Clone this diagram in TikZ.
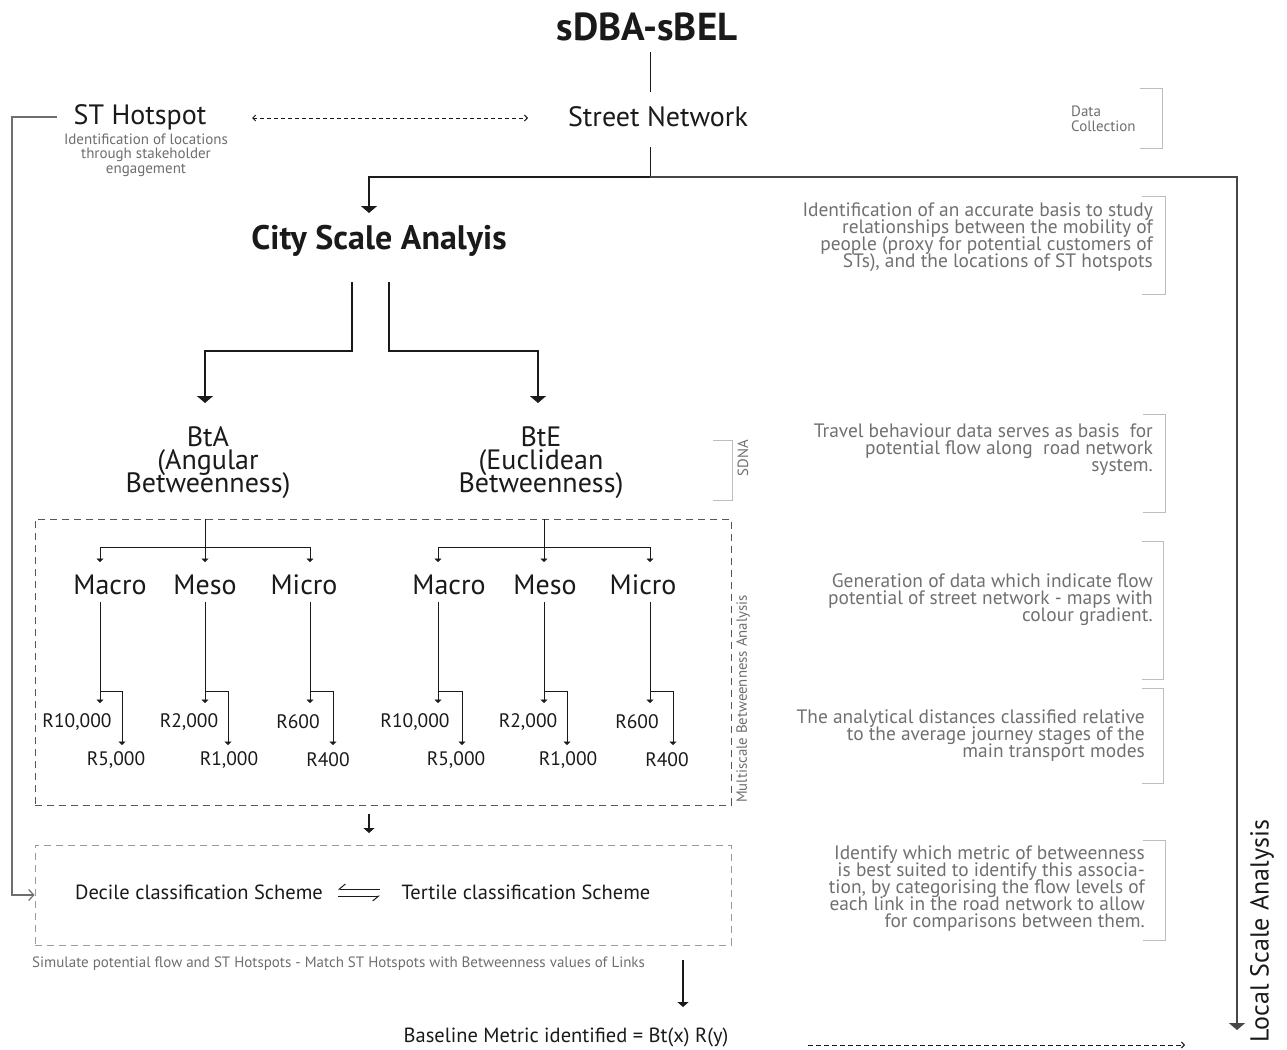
\documentclass[tikz,border=0pt]{standalone}
\usepackage{fontspec}
\setmainfont{PT Sans}
\usetikzlibrary{arrows.meta}

\definecolor{ink}{HTML}{1A1A1A}
\definecolor{subgrey}{HTML}{6E6E6E}
\definecolor{descgrey}{HTML}{707070}
\definecolor{brack}{HTML}{BDBDBD}
\definecolor{rail}{HTML}{474747}
\definecolor{boxone}{HTML}{555555}
\definecolor{boxtwo}{HTML}{9A9A9A}

% allow lines closer than their natural height
\newcommand\tightlines{\lineskiplimit=-30pt\relax}

\begin{document}
\begin{tikzpicture}[x=1pt,y=-1pt,
  txt/.style={inner sep=0pt, text=ink},
  fbig/.style={txt, font=\fontsize{28}{23}\selectfont\tightlines},
  ftitle/.style={txt, font=\bfseries\fontsize{39}{40}\selectfont},
  fcity/.style={txt, font=\bfseries\fontsize{34}{36}\selectfont},
  frad/.style={txt, font=\fontsize{19.5}{20}\selectfont},
  fscheme/.style={txt, font=\fontsize{20.5}{22}\selectfont},
  fsub/.style={txt, text=subgrey, font=\fontsize{15}{14.5}\selectfont\tightlines},
  fside/.style={txt, text=subgrey, font=\fontsize{14.8}{15}\selectfont},
  fdesc/.style={txt, text=descgrey, align=right, anchor=north east, font=\fontsize{19.4}{17}\selectfont\tightlines},
  conn/.style={draw=ink, line width=1.4pt},
  thin/.style={draw=ink, line width=1pt},
  railline/.style={draw=rail, line width=2pt},
  greyline/.style={draw=subgrey, line width=1.2pt},
  bracket/.style={draw=brack, line width=1pt},
  bigtip/.style={-{Triangle[width=16pt,length=7pt]}},
  midtip/.style={-{Triangle[width=11pt,length=5pt]}},
  smalltip/.style={-{Triangle[width=7pt,length=3.5pt]}},
  dashbox/.style={draw=boxone, line width=1pt, dash pattern=on 7pt off 5pt, minimum width=696pt, minimum height=286pt, inner sep=0pt},
]
\useasboundingbox (0,0) rectangle (1287,1049);

% ---------- data collection level ----------
\node[ftitle] (title) at (647,27) {sDBA-sBEL};
\node[fbig] (street) at (658,117) {Street Network};
\node[fbig] (hot) at (140,117) {ST Hotspot};
\node[fsub, align=center] (hotsub) at (146,155) {Identification of locations\\through stakeholder\\engagement};
\node[fsub, align=left, anchor=west] (datacol) at (1071,119) {Data\\Collection};

\coordinate (titleout) at (650,52);
\coordinate (streetin) at (650,92);
\coordinate (streetout) at (650,147);
\coordinate (split) at (650,177);
\coordinate (cityin) at (369,213);
\coordinate (localend) at (1237,1030);
\coordinate (hotL) at (252,118);
\coordinate (streetL) at (528,118);

\draw[thin] (titleout) -- (streetin);
\draw[thin] (streetout) -- (split);
\draw[conn, bigtip] (split) -| (cityin);
\draw[railline, bigtip] (split) -| (localend);
\draw[thin, dash pattern=on 4pt off 3pt,
      {Straight Barb[length=3pt,width=6pt]}-{Straight Barb[length=3pt,width=6pt]}] (hotL) -- (streetL);

% ---------- city scale ----------
\node[fcity] (city) at (379,241) {City Scale Analyis};
\coordinate (cityL) at (352,282);
\coordinate (cityR) at (389,282);
\coordinate (btaIn) at (205,403);
\coordinate (bteIn) at (538,403);
\draw[conn, bigtip] (cityL) -- (352,351) -| (btaIn);
\draw[conn, bigtip] (cityR) -- (389,351) -| (bteIn);

\node[fbig, align=center] (bta) at (208,463) {BtA\\(Angular\\Betweenness)};
\node[fbig, align=center] (bte) at (541,463) {BtE\\(Euclidean\\Betweenness)};

% ---------- multiscale betweenness box ----------
\node[dashbox] (box1) at (383,662) {};
\node[fside, rotate=90] (mba) at (743,699) {Multiscale Betweenness Analysis};
\node[fside, rotate=90] (sdna) at (743,458) {SDNA};

% scale levels, angular
\node[fbig] (maA) at (110,585) {Macro};
\node[fbig] (meA) at (205,585) {Meso};
\node[fbig] (miA) at (304,585) {Micro};
\node[frad] (r10A) at (77,722) {R10,000};
\node[frad] (r5A) at (116,760) {R5,000};
\node[frad] (r2A) at (189,722) {R2,000};
\node[frad] (r1A) at (229,760) {R1,000};
\node[frad] (r6A) at (298,722) {R600};
\node[frad] (r4A) at (328,760) {R400};

% scale levels, euclidean
\node[fbig] (maE) at (449,585) {Macro};
\node[fbig] (meE) at (545,585) {Meso};
\node[fbig] (miE) at (643,585) {Micro};
\node[frad] (r10E) at (415,722) {R10,000};
\node[frad] (r5E) at (456,760) {R5,000};
\node[frad] (r2E) at (528,722) {R2,000};
\node[frad] (r1E) at (568,760) {R1,000};
\node[frad] (r6E) at (637,722) {R600};
\node[frad] (r4E) at (667,760) {R400};

% fan-out to the three scales
\foreach \c/\l/\m/\r in {205/100/205/310, 544/438/544/650}{
  \draw[thin] (\c,519) -- (\c,547);
  \draw[thin] (\l,547) -- (\r,547);
  \draw[thin, smalltip] (\l,547) -- (\l,562);
  \draw[thin, smalltip] (\m,547) -- (\m,562);
  \draw[thin, smalltip] (\r,547) -- (\r,562);
}
% each scale to its two radii
\foreach \x/\xr in {100/122, 205/228, 310/333, 438/462, 544/567, 650/673}{
  \draw[thin, smalltip] (\x,602) -- (\x,703);
  \draw[thin, smalltip] (\x,691) -- (\xr,691) -- (\xr,745);
}

% ---------- classification ----------
\coordinate (box1out) at (369,814);
\coordinate (box2in) at (369,833);
\draw[conn, midtip] (box1out) -- (box2in);

\node[draw=boxtwo, line width=1pt, dash pattern=on 7pt off 5pt, minimum width=696pt, minimum height=100pt, inner sep=0pt] (box2) at (383,895) {};
\node[fscheme] (decile) at (199,892) {Decile classification Scheme};
\node[fscheme] (tertile) at (526,892) {Tertile classification Scheme};
\draw[thin, -{Straight Barb[harpoon,swap,length=6pt,width=10pt]}] (380,889) -- (338,889);
\draw[thin, -{Straight Barb[harpoon,swap,length=6pt,width=10pt]}] (338,896) -- (380,896);

\coordinate (hotout) at (57,117);
\draw[greyline, -{Straight Barb[length=5pt,width=11pt]}] (hotout) -- (12,117) |- (box2.west);

\node[txt, text=subgrey, anchor=west, font=\fontsize{15}{16}\selectfont] (simulate) at (32,964)
  {Simulate potential flow and ST Hotspots - Match ST Hotspots with Betweenness values of Links};

\coordinate (metricfrom) at (683,960);
\coordinate (metricto) at (683,1007);
\draw[conn, midtip] (metricfrom) -- (metricto);
\node[txt, font=\fontsize{20.5}{22}\selectfont] (metric) at (566,1037) {Baseline Metric identified = Bt(x) R(y)};

\coordinate (dashfrom) at (808,1045);
\coordinate (dashto) at (1185,1045);
\draw[thin, dash pattern=on 5pt off 3pt, -{Straight Barb[length=3pt,width=6pt]}] (dashfrom) -- (dashto);

\node[txt, rotate=90, font=\fontsize{26}{28}\selectfont] (local) at (1262,931) {Local Scale Analysis};

% ---------- notes on the right ----------
\node[fdesc] (d1) at (1153,203) {Identification of an accurate basis to study\\relationships between the mobility of\\people (proxy for potential customers of\\STs), and the locations of ST hotspots};
\node[fdesc] (d2) at (1153,424) {Travel behaviour data serves as basis\ \ for\\potential flow along\ \ road network\\system.};
\node[fdesc] (d3) at (1153,573) {Generation of data which indicate flow\\potential of street network - maps with\\colour gradient.};
\node[fdesc] (d4) at (1145,710) {The analytical distances classified relative\\to the average journey stages of the\\main transport modes};
\node[fdesc] (d5) at (1145,846) {Identify which metric of betweenness\\is best suited to identify this associa-\\tion, by categorising the flow levels of\\each link in the road network to allow\\for comparisons between them.};

% brackets
\draw[bracket] (1140,88) -| (1162,148) -- (1140,148);
\draw[bracket] (1142,196) -| (1165,294) -- (1142,294);
\draw[bracket] (1143,414) -| (1165,512) -- (1143,512);
\draw[bracket] (1142,541) -| (1163,679) -- (1142,679);
\draw[bracket] (1142,688) -| (1163,783) -- (1142,783);
\draw[bracket] (1143,840) -| (1165,940) -- (1143,940);
\draw[bracket] (713,440) -| (732,500) -- (713,500);
\end{tikzpicture}
\end{document}
